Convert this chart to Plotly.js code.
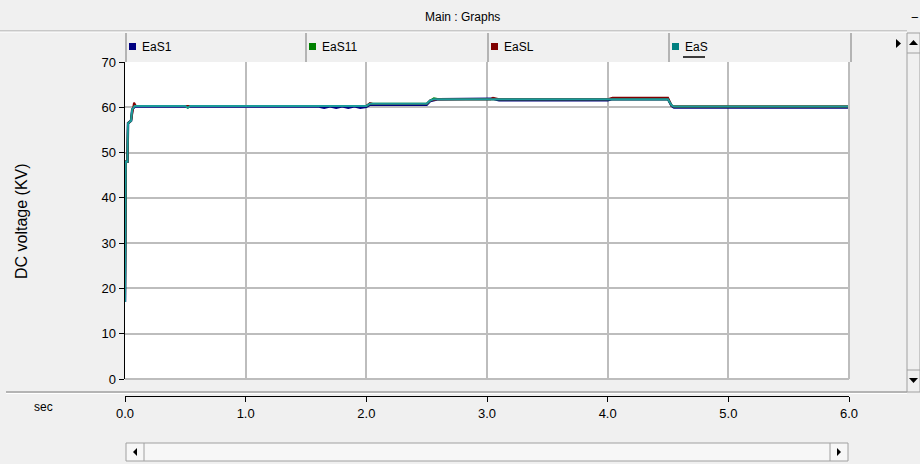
<!DOCTYPE html>
<html><head><meta charset="utf-8">
<script src="https://cdn.plot.ly/plotly-3.0.1.min.js"></script>
<style>html,body{margin:0;padding:0;background:#f0f0f0;}#chart{width:920px;height:464px;}</style>
</head><body><div id="chart"></div>
<script>
// ---- data ----
const seriesNames = ["EaS1", "EaS11", "EaSL", "EaS"];
const seriesColors = ["#000080", "#008000", "#800000", "#1a9a9a"];
const legendColors = ["#000080", "#008000", "#800000", "#008080"];

const tEaS1 = [0, 0.004, 0.006, 0.02, 0.025, 0.05, 0.06, 0.08, 1.6, 1.65, 1.7, 1.75, 1.8, 1.85, 1.9, 1.95, 2.0, 2.03, 2.05, 2.5, 2.53, 2.6, 3.05, 3.1, 4.0, 4.04, 4.5, 4.53, 4.55, 6.0];
const vEaS1 = [17, 40, 48, 48, 56.5, 57, 59.5, 60.2, 60.2, 59.9, 60.2, 59.9, 60.2, 59.9, 60.2, 59.9, 60.1, 60.6, 60.55, 60.55, 61.4, 61.8, 61.9, 61.55, 61.55, 61.8, 61.8, 60.3, 59.95, 59.95];

const tEaS11 = [0, 0.004, 0.006, 0.02, 0.025, 0.05, 0.06, 0.08, 0.5, 0.52, 0.54, 2.0, 2.03, 2.05, 2.5, 2.53, 2.56, 2.6, 4.5, 4.53, 4.55, 6.0];
const vEaS11 = [17, 40, 48, 48, 56.5, 57, 59.5, 60.3, 60.3, 59.9, 60.3, 60.3, 60.8, 60.8, 60.8, 61.5, 62.0, 61.8, 61.8, 60.4, 60.2, 60.2];

const tEaSL = [0, 0.004, 0.006, 0.02, 0.025, 0.05, 0.065, 0.075, 0.09, 2.0, 2.03, 2.06, 2.5, 2.53, 2.6, 3.03, 3.05, 3.1, 4.0, 4.04, 4.5, 4.53, 4.55, 6.0];
const vEaSL = [17, 40, 48, 48, 56.5, 57, 60, 61, 60.3, 60.3, 60.9, 60.7, 60.7, 61.5, 61.8, 61.8, 62.1, 61.8, 61.8, 62.1, 62.1, 60.3, 60.2, 60.2];

const tEaS = [0, 0.004, 0.006, 0.02, 0.025, 0.05, 0.06, 0.08, 0.5, 0.52, 0.54, 2.0, 2.03, 2.05, 2.5, 2.53, 2.56, 2.6, 3.05, 4.5, 4.53, 4.55, 6.0];
const vEaS = [17, 40, 48, 48, 56.5, 57, 59.5, 60.3, 60.3, 59.9, 60.3, 60.3, 60.8, 60.8, 60.8, 61.5, 61.8, 61.8, 61.8, 61.8, 60.4, 60.2, 60.2];

const yTicks = [0, 10, 20, 30, 40, 50, 60, 70];
const xTicks = [0, 1, 2, 3, 4, 5, 6];
const xTickText = ["0.0", "1.0", "2.0", "3.0", "4.0", "5.0", "6.0"];

const windowTitle = "Main : Graphs";
const yTitle = "DC voltage (KV)";
const xUnit = "sec";

// ---- layout helpers (pixel -> paper) ----
const W = 920, H = 464;
const X = p => p / W;
const Y = p => 1 - p / H;

const tAll = [tEaS1, tEaS11, tEaSL, tEaS];
const vAll = [vEaS1, vEaS11, vEaSL, vEaS];
const traces = seriesNames.map((n, i) => ({
  x: tAll[i], y: vAll[i], name: n, type: "scatter", mode: "lines",
  line: {color: seriesColors[i], width: i === 0 ? 2.5 : 2}, hoverinfo: "skip"
}));

const grey = "#a0a0a0";
const shapes = [];
const annotations = [];
const P = {xref: "paper", yref: "paper"};
// title bar bottom line
shapes.push({...P, type: "line", x0: 0, x1: X(907), y0: Y(31), y1: Y(31), line: {color: grey, width: 1}});
shapes.push({...P, type: "line", x0: 0, x1: X(907), y0: Y(32), y1: Y(32), line: {color: "#ffffff", width: 1}});
// right vertical scrollbar
shapes.push({...P, type: "rect", x0: X(907), x1: X(920), y0: Y(33), y1: Y(392), fillcolor: "#f0f0f0", line: {color: grey, width: 1}});
shapes.push({...P, type: "line", x0: X(907), x1: X(920), y0: Y(53), y1: Y(53), line: {color: grey, width: 1}});
shapes.push({...P, type: "line", x0: X(907), x1: X(920), y0: Y(370), y1: Y(370), line: {color: grey, width: 1}});
// legend cells
const cellEdges = [126, 306, 488, 669, 851];
cellEdges.forEach(e => shapes.push({...P, type: "line", x0: X(e), x1: X(e), y0: Y(33), y1: Y(62), line: {color: grey, width: 1.5}}));
seriesNames.forEach((n, i) => {
  const cx = cellEdges[i];
  shapes.push({...P, type: "rect", x0: X(cx + 3), x1: X(cx + 10), y0: Y(50), y1: Y(43), fillcolor: legendColors[i], line: {width: 0}});
  annotations.push({...P, x: X(cx + 14), y: Y(47), text: n, showarrow: false, xanchor: "left", yanchor: "middle", font: {family: "Liberation Sans", size: 12, color: "#000"}});
});
// underline of active item
shapes.push({...P, type: "line", x0: X(683), x1: X(705), y0: Y(57), y1: Y(57), line: {color: "#000", width: 1.5}});
// legend scroll arrow
shapes.push({...P, type: "path", path: `M ${X(896)} ${Y(39)} L ${X(901)} ${Y(43.5)} L ${X(896)} ${Y(48)} Z`, fillcolor: "#000", line: {width: 0}});
// up/down arrows in right scrollbar
shapes.push({...P, type: "path", path: `M ${X(913.5)} ${Y(40)} L ${X(918)} ${Y(45)} L ${X(909)} ${Y(45)} Z`, fillcolor: "#000", line: {width: 0}});
shapes.push({...P, type: "path", path: `M ${X(913.5)} ${Y(383)} L ${X(918)} ${Y(378)} L ${X(909)} ${Y(378)} Z`, fillcolor: "#000", line: {width: 0}});
// separator above time axis
shapes.push({...P, type: "line", x0: X(6), x1: X(907), y0: Y(392), y1: Y(392), line: {color: grey, width: 1.5}});
shapes.push({...P, type: "line", x0: X(6), x1: X(907), y0: Y(393.5), y1: Y(393.5), line: {color: "#ffffff", width: 1}});
// bottom horizontal scrollbar
shapes.push({...P, type: "rect", x0: X(126), x1: X(848), y0: Y(443), y1: Y(461), fillcolor: "#f7f7f7", line: {color: grey, width: 1}});
shapes.push({...P, type: "line", x0: X(144), x1: X(144), y0: Y(443), y1: Y(461), line: {color: grey, width: 1}});
shapes.push({...P, type: "line", x0: X(830), x1: X(830), y0: Y(443), y1: Y(461), line: {color: grey, width: 1}});
shapes.push({...P, type: "path", path: `M ${X(133)} ${Y(452)} L ${X(137)} ${Y(448)} L ${X(137)} ${Y(456)} Z`, fillcolor: "#000", line: {width: 0}});
shapes.push({...P, type: "path", path: `M ${X(841)} ${Y(452)} L ${X(837)} ${Y(448)} L ${X(837)} ${Y(456)} Z`, fillcolor: "#000", line: {width: 0}});
// plot right border (grid colour)
shapes.push({...P, type: "line", x0: X(849), x1: X(849), y0: Y(62), y1: Y(379), line: {color: "#bdbdbd", width: 2}});

annotations.push({...P, x: X(462), y: Y(17), text: windowTitle, showarrow: false, xanchor: "center", yanchor: "middle", font: {family: "Liberation Sans", size: 12, color: "#000"}});
annotations.push({...P, x: X(915), y: Y(17), text: "−", showarrow: false, xanchor: "center", yanchor: "middle", font: {family: "Liberation Sans", size: 13, color: "#000"}});
annotations.push({...P, x: X(43), y: Y(407), text: xUnit, showarrow: false, xanchor: "center", yanchor: "middle", font: {family: "Liberation Sans", size: 12, color: "#000"}});
annotations.push({...P, x: X(22), y: Y(221), text: yTitle, textangle: -90, showarrow: false, xanchor: "center", yanchor: "middle", font: {family: "Liberation Sans", size: 16, color: "#000"}});

const layout = {
  width: W, height: H,
  margin: {l: 0, r: 0, t: 0, b: 0, pad: 0},
  paper_bgcolor: "#f0f0f0", plot_bgcolor: "#ffffff",
  showlegend: false,
  xaxis: {
    domain: [X(125), X(849)], range: [0, 6], anchor: "free", position: Y(396),
    tickvals: xTicks, ticktext: xTickText, ticks: "outside", ticklen: 5, tickcolor: "#000",
    showline: true, linecolor: "#000", linewidth: 1,
    showgrid: true, gridcolor: "#bdbdbd", gridwidth: 2, zeroline: false,
    tickfont: {family: "Liberation Sans", size: 13, color: "#000"}, fixedrange: true
  },
  yaxis: {
    domain: [Y(379), Y(62)], range: [0, 70],
    tickvals: yTicks, ticks: "outside", ticklen: 5, tickcolor: "#000",
    showline: true, linecolor: "#000", linewidth: 1.5,
    showgrid: true, gridcolor: "#bdbdbd", gridwidth: 2,
    zeroline: true, zerolinecolor: "#bdbdbd", zerolinewidth: 2,
    tickfont: {family: "Liberation Sans", size: 13, color: "#000"},
    fixedrange: true
  },
  shapes: shapes,
  annotations: annotations
};

Plotly.newPlot("chart", traces, layout, {displayModeBar: false, staticPlot: true});
</script>
</body></html>
